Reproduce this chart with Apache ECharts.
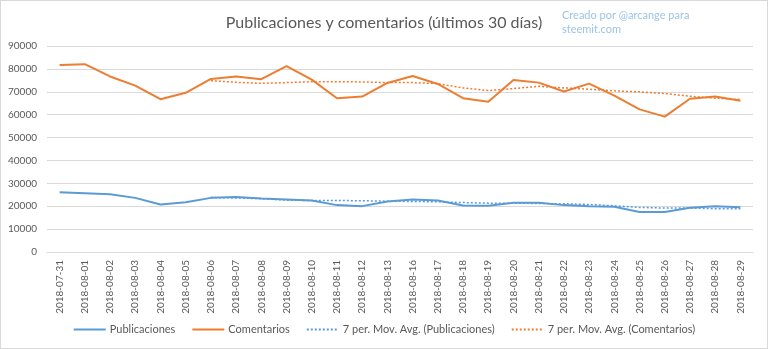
<!DOCTYPE html>
<html>
<head>
<meta charset="utf-8">
<script src="https://cdn.jsdelivr.net/npm/echarts@6/dist/echarts.min.js"></script>
<style>
  html, body { margin: 0; padding: 0; background: #fff; }
  #chart { width: 768px; height: 349px; box-sizing: border-box; border: 1px solid #d9d9d9; }
</style>
</head>
<body>
<div id="chart"></div>
<script>
// Daily dates (08-14 and 08-15 are absent in the source data)
const dates = [
  '2018-07-31', '2018-08-01', '2018-08-02', '2018-08-03', '2018-08-04', '2018-08-05',
  '2018-08-06', '2018-08-07', '2018-08-08', '2018-08-09', '2018-08-10', '2018-08-11',
  '2018-08-12', '2018-08-13', '2018-08-16', '2018-08-17', '2018-08-18', '2018-08-19',
  '2018-08-20', '2018-08-21', '2018-08-22', '2018-08-23', '2018-08-24', '2018-08-25',
  '2018-08-26', '2018-08-27', '2018-08-28', '2018-08-29'
];

const publicaciones = [
  26090, 25670, 25240, 23650, 20770, 21780, 23650, 24080, 23370, 22930,
  22500, 20480, 20040, 22070, 22930, 22500, 20340, 20190, 21490, 21490,
  20480, 20040, 19750, 17450, 17450, 19340, 20040, 19600
];

const comentarios = [
  81650, 82070, 76700, 72700, 66770, 69540, 75600, 76700, 75500, 81200,
  75300, 67200, 67900, 73850, 76880, 73400, 67200, 65600, 75150, 74000,
  70100, 73560, 68360, 62300, 59140, 66930, 67930, 66070
];

// 7-period moving averages (first six days have no value)
const mediaPublicaciones = [
  null, null, null, null, null, null, 23800, 23600, 23300, 22650,
  22500, 22500, 22400, 22200, 22070, 21920, 21600, 21340, 21340, 21200,
  21060, 20770, 20190, 19470, 19200, 19200, 18900, 18900
];

const mediaComentarios = [
  null, null, null, null, null, null, 74860, 74130, 73700, 74000,
  74400, 74400, 74300, 74000, 74000, 73560, 71700, 70530, 71390, 72400,
  71700, 71100, 70400, 69970, 69230, 68060, 67200, 66640
];

const yTicks = { min: 0, max: 90000, interval: 10000 };

const BLUE = '#5b9bd5';
const ORANGE = '#ed7d31';
const FONT = 'Lato';

const chart = echarts.init(document.getElementById('chart'), null, { renderer: 'canvas' });

chart.setOption({
  animation: false,
  backgroundColor: '#fff',
  textStyle: { fontFamily: FONT },
  title: [
    {
      text: 'Publicaciones y comentarios (últimos 30 días)',
      left: 378, top: 9, textAlign: 'center',
      textStyle: { fontFamily: FONT, fontSize: 16, fontWeight: 'normal', color: '#595959' }
    },
    {
      text: 'Creado por @arcange para\nsteemit.com',
      left: 561, top: 7, padding: 0,
      textStyle: { fontFamily: FONT, fontSize: 11, fontWeight: 'normal', color: '#9dc3e6', lineHeight: 14 }
    }
  ],
  grid: { left: 46, right: 14, top: 45, bottom: 96 },
  xAxis: {
    type: 'category',
    data: dates,
    boundaryGap: true,
    axisLine: { lineStyle: { color: '#d9d9d9', width: 1 } },
    axisTick: { show: false },
    axisLabel: { rotate: 90, fontSize: 10, color: '#595959', margin: 8, interval: 0, fontFamily: FONT }
  },
  yAxis: {
    type: 'value',
    min: yTicks.min, max: yTicks.max, interval: yTicks.interval,
    axisLine: { show: false },
    axisTick: { show: false },
    axisLabel: { fontSize: 10, color: '#595959', margin: 10, fontFamily: FONT, formatter: v => String(v) },
    splitLine: { lineStyle: { color: '#d9d9d9', width: 1 } }
  },
  legend: {
    bottom: 8, left: 'center',
    itemWidth: 32, itemHeight: 10, itemGap: 16,
    itemStyle: { opacity: 0 },
    textStyle: { fontFamily: FONT, fontSize: 11, color: '#595959', padding: [0, 0, 0, -1] },
    data: [
      'Publicaciones', 'Comentarios',
      '7 per. Mov. Avg. (Publicaciones)', '7 per. Mov. Avg. (Comentarios)'
    ]
  },
  series: [
    {
      name: 'Publicaciones', type: 'line', data: publicaciones,
      symbol: 'none', lineStyle: { color: BLUE, width: 2 }, itemStyle: { color: BLUE }
    },
    {
      name: 'Comentarios', type: 'line', data: comentarios,
      symbol: 'none', lineStyle: { color: ORANGE, width: 2 }, itemStyle: { color: ORANGE }
    },
    {
      name: '7 per. Mov. Avg. (Publicaciones)', type: 'line', data: mediaPublicaciones,
      symbol: 'none', lineStyle: { color: BLUE, width: 1.5, type: [2, 2] }, itemStyle: { color: BLUE }
    },
    {
      name: '7 per. Mov. Avg. (Comentarios)', type: 'line', data: mediaComentarios,
      symbol: 'none', lineStyle: { color: ORANGE, width: 1.5, type: [2, 2] }, itemStyle: { color: ORANGE }
    }
  ]
});
</script>
</body>
</html>
